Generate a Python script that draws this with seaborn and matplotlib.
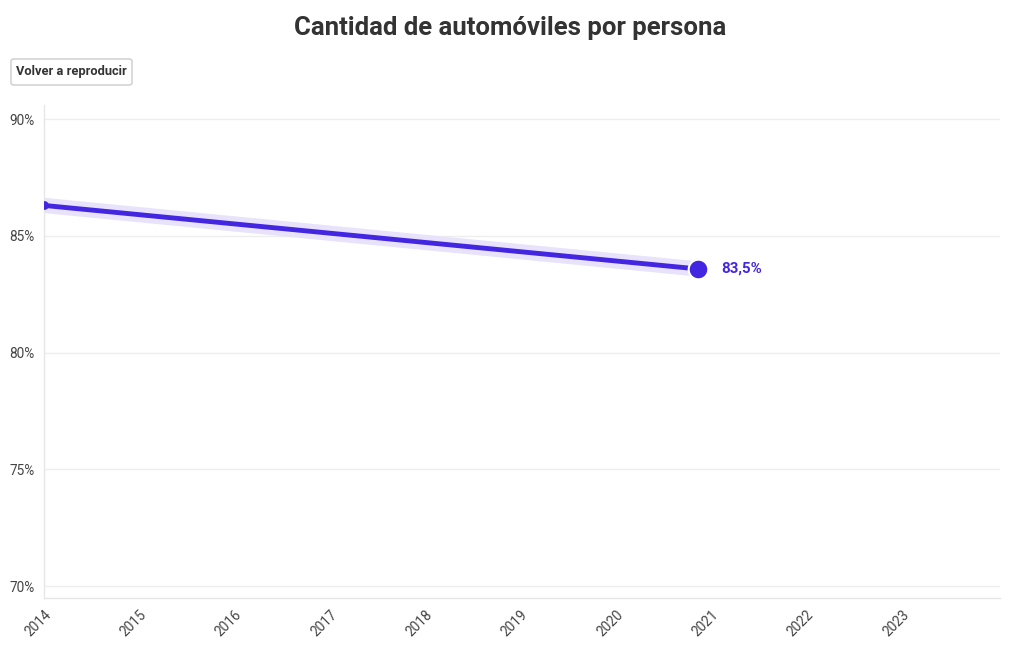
import matplotlib
matplotlib.use("Agg")
import matplotlib.pyplot as plt
import seaborn as sns
import pandas as pd
from matplotlib.patches import FancyBboxPatch

years = [2014, 2020.86]
values = [86.3, 83.58]
last_label = "83,5%"
title = "Cantidad de automóviles por persona"
button_text = "Volver a reproducir"
x_ticks = list(range(2014, 2024))
y_ticks = [70, 75, 80, 85, 90]

sns.set_style("white")
plt.rcParams['font.family'] = ['Roboto', 'DejaVu Sans']

df = pd.DataFrame({"year": years, "value": values})
color = "#4326e0"
halo = "#e8e3fb"

fig = plt.figure(figsize=(10.2, 6.5), dpi=100)
ax = fig.add_axes([44/1020, 1 - 598/650, 956/1020, (598 - 105)/650])

sns.lineplot(data=df, x="year", y="value", ax=ax, color=halo, lw=11, solid_capstyle="butt", zorder=2)
sns.lineplot(data=df, x="year", y="value", ax=ax, color=color, lw=3.5, zorder=3)
ax.scatter([years[0]], [values[0]], s=40, color=color, zorder=4, linewidths=0)
ax.scatter([years[-1]], [values[-1]], s=200, color=color, zorder=4, edgecolors="white", linewidths=1.5)
ax.annotate(last_label, (years[-1], values[-1]), xytext=(17, 0), textcoords="offset points",
            va="center", ha="left", color=color, fontsize=10.8, fontweight="bold")

ax.set_xlim(2014, 2024.03)
ax.set_ylim(69.49, 90.6)
ax.set_xticks(x_ticks)
ax.set_xticklabels([str(y) for y in x_ticks], rotation=45, ha="right", rotation_mode="anchor")
ax.set_yticks(y_ticks)
ax.set_yticklabels([f"{v}%" for v in y_ticks])
ax.grid(axis="y", color="#eeeeee", lw=1)
ax.set_axisbelow(True)
ax.set_xlabel("")
ax.set_ylabel("")
for s in ["top", "right"]:
    ax.spines[s].set_visible(False)
for s in ["left", "bottom"]:
    ax.spines[s].set_color("#e6e6e6")
    ax.spines[s].set_linewidth(1)
ax.tick_params(axis="both", colors="#e0e0e0", labelcolor="#444444", labelsize=9.8, length=5, width=1)
ax.tick_params(axis="x", pad=2)
ax.tick_params(axis="y", pad=2)

fig.text(0.5, 1 - 28/650, title, ha="center", va="center", fontsize=18.5, fontweight="bold", color="#333333")
btn = FancyBboxPatch((11/1020, 1 - 85/650), 121/1020, 26/650, boxstyle="round,pad=0,rounding_size=0.003",
                     transform=fig.transFigure, facecolor="white", edgecolor="#cccccc", lw=1)
fig.patches.append(btn)
fig.text(71.5/1020, 1 - 72/650, button_text, ha="center", va="center", fontsize=9.3, fontweight="bold", color="#333333")

fig.savefig("out.png", dpi=100)
